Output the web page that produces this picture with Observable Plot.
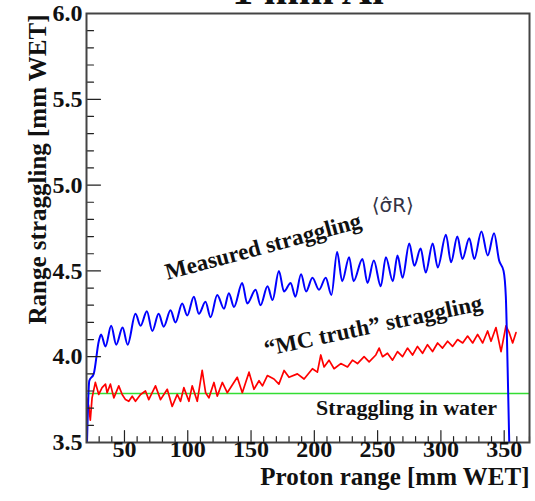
<!DOCTYPE html>
<html><head><meta charset="utf-8">
<script src="https://cdn.jsdelivr.net/npm/d3@7"></script>
<script src="https://cdn.jsdelivr.net/npm/@observablehq/plot@0.6"></script>
<style>body{margin:0;background:#fff} #chart svg{display:block}</style>
</head><body><div id="chart"></div>
<script>
const xMajor = [50, 100, 150, 200, 250, 300, 350];
const xMinor = [30, 40, 60, 70, 80, 90, 110, 120, 130, 140, 160, 170, 180, 190, 210, 220, 230, 240, 260, 270, 280, 290, 310, 320, 330, 340, 360, 370];
const yMajor = [3.5, 4.0, 4.5, 5.0, 5.5, 6.0];
const yMinor = [3.6, 3.7, 3.8, 3.9, 4.1, 4.2, 4.3, 4.4, 4.6, 4.7, 4.8, 4.9, 5.1, 5.2, 5.3, 5.4, 5.6, 5.7, 5.8, 5.9];

const waterLevel = 3.785;

const blueX = [20.4, 22.2, 25.7, 29.7, 31.5, 35, 39.5, 43.5, 48.5, 52.5, 58.7, 62.7, 67.7, 72, 77, 81, 86.4, 90.3, 95.6, 99.6, 104.8, 108.8, 114, 118, 123.3, 128.6, 132.5, 136.5, 143, 147, 153.6, 157.5, 163, 167, 172, 176, 181.3, 185, 189.5, 193.5, 198.5, 203.7, 209, 213.5, 218, 222, 227.5, 231, 238, 242, 247, 252.5, 256.5, 262, 265.7, 269.7, 275, 279, 284, 288, 293.5, 297.5, 304, 308, 313, 317, 322.4, 326.4, 332, 337, 342, 346, 349.5, 351.3, 352.7, 354];
const blueY = [3.5, 3.86, 3.90, 4.09, 4.13, 4.06, 4.18, 4.07, 4.17, 4.07, 4.25, 4.18, 4.265, 4.15, 4.25, 4.175, 4.27, 4.2, 4.31, 4.24, 4.35, 4.25, 4.32, 4.23, 4.36, 4.28, 4.37, 4.29, 4.43, 4.31, 4.39, 4.30, 4.41, 4.33, 4.50, 4.38, 4.43, 4.35, 4.48, 4.38, 4.46, 4.39, 4.46, 4.36, 4.61, 4.44, 4.58, 4.44, 4.57, 4.43, 4.56, 4.41, 4.58, 4.44, 4.59, 4.46, 4.66, 4.53, 4.63, 4.49, 4.66, 4.52, 4.71, 4.55, 4.70, 4.57, 4.69, 4.57, 4.73, 4.59, 4.72, 4.56, 4.50, 4.35, 3.94, 3.5];

const redX = [20.2, 21.8, 23, 24.4, 27, 29.7, 32.3, 35, 36.3, 38.9, 41.6, 45.5, 48.2, 50.8, 53.4, 56.1, 58.7, 62.7, 66.6, 69.2, 74.5, 78.5, 83.8, 87.7, 91.7, 94.3, 96.9, 100.9, 103.5, 107.5, 111.4, 114.1, 116.7, 120.7, 123.3, 127.3, 131.2, 133.9, 139.1, 143.1, 148.4, 152.3, 156.3, 159, 162.9, 168.1, 172, 176.1, 180, 186.6, 191.9, 198.5, 202.4, 205.1, 207.7, 211.6, 215.6, 220.9, 226.2, 230.1, 234.1, 239.3, 243.3, 248.6, 251.2, 253.9, 257.8, 261.8, 265.7, 269.7, 273.6, 277.6, 281.5, 285.5, 289.4, 293.4, 297.4, 301.3, 305.3, 309.2, 313.2, 317.2, 321.1, 325.1, 329, 333, 336.9, 339.6, 343.5, 347.5, 351.4, 354, 356.7, 359.3];
const redY = [3.76, 3.71, 3.63, 3.76, 3.85, 3.78, 3.82, 3.84, 3.79, 3.84, 3.76, 3.83, 3.78, 3.75, 3.74, 3.77, 3.74, 3.78, 3.80, 3.75, 3.83, 3.75, 3.81, 3.71, 3.78, 3.74, 3.82, 3.74, 3.83, 3.74, 3.92, 3.79, 3.76, 3.85, 3.77, 3.85, 3.79, 3.82, 3.88, 3.79, 3.91, 3.81, 3.86, 3.83, 3.89, 3.87, 3.84, 3.92, 3.88, 3.90, 3.87, 3.93, 3.91, 4.01, 3.94, 3.98, 3.93, 3.96, 3.94, 3.98, 3.96, 4.00, 3.97, 4.01, 4.05, 4.00, 4.02, 3.98, 4.03, 4.00, 4.05, 4.01, 4.06, 4.02, 4.07, 4.03, 4.08, 4.05, 4.09, 4.06, 4.10, 4.08, 4.12, 4.08, 4.13, 4.08, 4.15, 4.09, 4.17, 4.03, 4.18, 4.14, 4.08, 4.14];

const blueRows = blueX.map((x, i) => ({x, y: blueY[i]}));
const redRows = redX.map((x, i) => ({x, y: redY[i]}));

const serif = "'Liberation Serif', 'DejaVu Serif', 'Times New Roman', serif";

const plot = Plot.plot({
  width: 535, height: 501,
  marginLeft: 86, marginRight: 6, marginTop: 13, marginBottom: 59,
  style: {fontFamily: serif, fontWeight: "bold", background: "#fff", color: "#111"},
  x: {domain: [20, 370], axis: null},
  y: {domain: [3.5, 6.0], axis: null},
  marks: [
    Plot.ruleY([waterLevel], {stroke: "#33dd33", strokeWidth: 1.5}),
    Plot.line(redRows, {x: "x", y: "y", stroke: "#ff0000", strokeWidth: 1.7, clip: true}),
    Plot.line(blueRows, {x: "x", y: "y", stroke: "#0000ff", strokeWidth: 2, curve: "monotone-x", clip: true}),
    Plot.vector(xMinor, {x: d => d, frameAnchor: "bottom", length: 6, rotate: 0, anchor: "start", r: 0, stroke: "#222", strokeWidth: 1.2}),
    Plot.vector(xMajor, {x: d => d, frameAnchor: "bottom", length: 12, rotate: 0, anchor: "start", r: 0, stroke: "#222", strokeWidth: 1.2}),
    Plot.vector(yMinor, {y: d => d, frameAnchor: "left", length: 7, rotate: 90, anchor: "start", r: 0, stroke: "#222", strokeWidth: 1.2}),
    Plot.vector(yMajor, {y: d => d, frameAnchor: "left", length: 14, rotate: 90, anchor: "start", r: 0, stroke: "#222", strokeWidth: 1.2}),
    Plot.frame({stroke: "#444", strokeWidth: 2}),
    Plot.text(xMajor, {x: d => d, frameAnchor: "bottom", dy: 14, fontSize: 24, text: d => String(d), fill: "#111"}),
    Plot.text(yMajor, {y: d => d, frameAnchor: "left", textAnchor: "end", dx: -4, fontSize: 24, text: d => d.toFixed(1), fill: "#111"}),
    Plot.text(["Proton range [mm WET]"], {frameAnchor: "bottom-right", textAnchor: "end", dy: 42, fontSize: 25, fill: "#111"}),
    Plot.text(["Range straggling [mm WET]"], {frameAnchor: "top-left", rotate: -90, textAnchor: "end", dx: -58, dy: 1, fontSize: 25, fill: "#111"}),
    Plot.text(["1 mm Al"], {frameAnchor: "top", dy: -10, lineAnchor: "bottom", fontSize: 42, fill: "#111"}),
    Plot.text(["Measured straggling"], {x: [159.6], y: [4.642], rotate: -15, fontSize: 23, fill: "#111"}),
    Plot.text(["\u27E8\u03C3\u0302R\u27E9"], {x: [262], y: [4.88], fontSize: 20, fontWeight: "normal", fontFamily: "'DejaVu Sans', sans-serif", fill: "#334"}),
    Plot.text(["\u201CMC truth\u201D straggling"], {x: [246.6], y: [4.18], rotate: -12, fontSize: 23, fill: "#111"}),
    Plot.text(["Straggling in water"], {x: [344.3], y: [3.704], textAnchor: "end", fontSize: 22, fill: "#111"})
  ]
});
document.getElementById("chart").appendChild(plot);
</script>
</body></html>
